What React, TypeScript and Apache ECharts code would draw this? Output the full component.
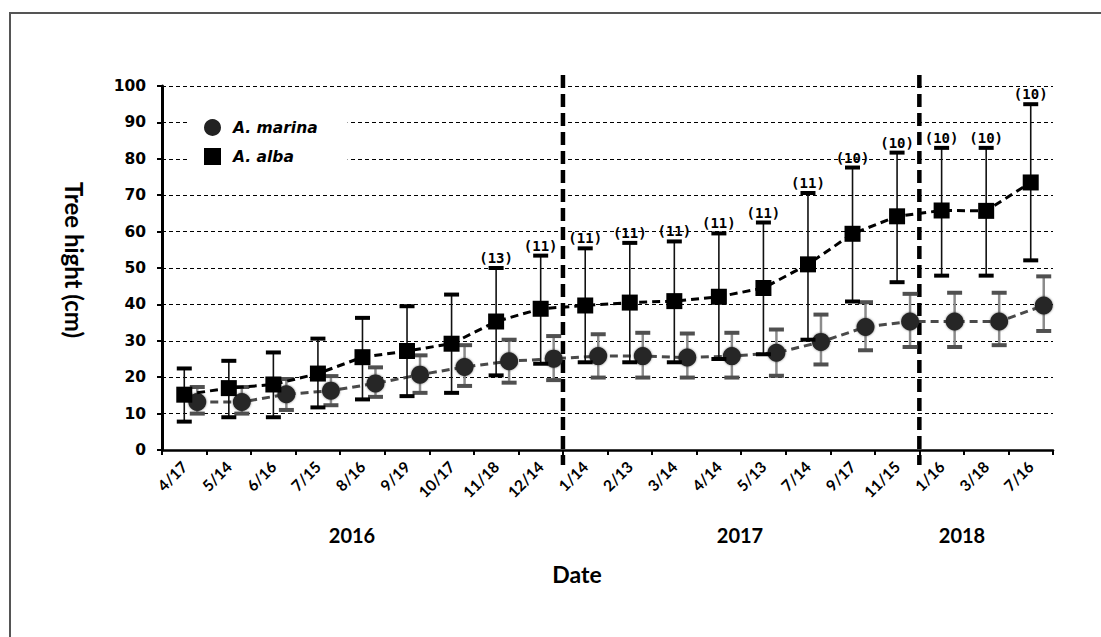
import React, { useEffect, useRef } from "react";
import * as echarts from "echarts";

// Sampling dates (month/day)
const categories = [
  "4/17", "5/14", "6/16", "7/15", "8/16", "9/19", "10/17", "11/18", "12/14",
  "1/14", "2/13", "3/14", "4/14", "5/13", "7/14", "9/17", "11/15",
  "1/16", "3/18", "7/16",
];

// Year groups: label and the date after which the year ends
const years = ["2016", "2017", "2018"];
const yearEndsAfter = ["12/14", "11/15"];

// Avicennia alba: mean, upper and lower bounds (cm), sample sizes
const albaMean = [15.2, 17.0, 18.0, 21.0, 25.5, 27.2, 29.2, 35.3, 38.8, 39.7, 40.5, 40.9, 42.1, 44.5, 51.0, 59.4, 64.2, 65.8, 65.7, 73.5];
const albaHigh = [22.4, 24.5, 26.8, 30.6, 36.3, 39.5, 42.7, 50.0, 53.4, 55.4, 56.9, 57.3, 59.5, 62.5, 70.6, 77.6, 81.7, 83.0, 83.0, 95.0];
const albaLow = [7.8, 9.0, 9.0, 11.7, 13.9, 14.8, 15.7, 20.5, 23.7, 24.1, 24.1, 24.1, 25.0, 26.3, 30.3, 40.8, 46.1, 47.9, 47.9, 52.1];
const albaN: (number | null)[] = [null, null, null, null, null, null, null, 13, 11, 11, 11, 11, 11, 11, 11, 10, 10, 10, 10, 10];

// Avicennia marina: mean, upper and lower bounds (cm)
const marinaMean = [13.2, 13.2, 15.3, 16.3, 18.3, 20.7, 22.8, 24.4, 25.1, 25.8, 25.8, 25.4, 25.8, 26.7, 29.7, 33.8, 35.3, 35.3, 35.3, 39.7];
const marinaHigh = [17.3, 17.3, 19.5, 20.3, 22.7, 26.0, 28.8, 30.3, 31.3, 31.8, 32.2, 32.0, 32.2, 33.1, 37.2, 40.6, 42.9, 43.2, 43.2, 47.7];
const marinaLow = [10.0, 10.0, 11.0, 12.3, 14.6, 15.7, 17.6, 18.5, 19.2, 19.9, 19.9, 19.9, 19.9, 20.4, 23.5, 27.4, 28.3, 28.3, 28.8, 32.7];

const yTicks = { min: 0, max: 100, interval: 10 };

const BOLD_SANS = "Lato";
const NUM_FONT = "DejaVu Sans";

function errorBarRenderer(opts: {
  stem: string;
  stemWidth: number;
  cap: string;
  labels?: (number | null)[];
}) {
  return (params: any, api: any) => {
    const idx = api.value(0);
    const hi = api.coord([idx, api.value(2)]);
    const lo = api.coord([idx, api.value(1)]);
    const x = hi[0];
    const capW = 15;
    const capH = 4;
    const children: any[] = [
      {
        type: "line",
        shape: { x1: x, y1: hi[1], x2: x, y2: lo[1] },
        style: { stroke: opts.stem, lineWidth: opts.stemWidth },
      },
      {
        type: "rect",
        shape: { x: x - capW / 2, y: hi[1] - capH / 2, width: capW, height: capH },
        style: { fill: opts.cap },
      },
      {
        type: "rect",
        shape: { x: x - capW / 2, y: lo[1] - capH / 2, width: capW, height: capH },
        style: { fill: opts.cap },
      },
    ];
    const n = opts.labels ? opts.labels[params.dataIndex] : null;
    if (n != null) {
      children.push({
        type: "text",
        x: x,
        y: hi[1] - 3,
        style: {
          text: "(" + n + ")",
          fill: "#000",
          font: "bold 14px 'DejaVu Sans Mono'",
          align: "center",
          verticalAlign: "bottom",
        },
      });
    }
    return { type: "group", children };
  };
}

export default function App() {
  const ref = useRef<HTMLDivElement>(null);

  useEffect(() => {
    if (!ref.current) return;
    const chart = echarts.init(ref.current, null, { renderer: "svg" });

    const albaBars = categories.map((_, i) => [i, albaLow[i], albaHigh[i]]);
    const marinaBars = categories.map((_, i) => [i, marinaLow[i], marinaHigh[i]]);
    const breaks = yearEndsAfter.map((d) => [categories.indexOf(d)]);

    const hiddenCat = {
      type: "category",
      data: categories,
      boundaryGap: true,
      show: false,
    };

    chart.setOption({
      animation: false,
      backgroundColor: "#fff",
      grid: [
        { left: 162, right: 48, top: 86, bottom: 187 },
        // marina points sit slightly to the right of each date slot
        { left: 175, right: 35, top: 86, bottom: 187 },
      ],
      legend: {
        orient: "vertical",
        left: 188,
        top: 110,
        padding: [9, 30, 9, 16],
        backgroundColor: "#fff",
        itemWidth: 17,
        itemHeight: 17,
        itemGap: 12,
        selectedMode: false,
        textStyle: {
          fontFamily: NUM_FONT,
          fontWeight: "bold",
          fontStyle: "italic",
          fontSize: 15.5,
          color: "#000",
          padding: [0, 0, 0, 7],
        },
        data: [
          { name: "A. marina", icon: "circle", itemStyle: { color: "#222" } },
          { name: "A. alba", icon: "rect", itemStyle: { color: "#000" } },
        ],
        z: 10,
      },
      xAxis: [
        {
          type: "category",
          gridIndex: 0,
          data: categories,
          boundaryGap: true,
          axisLine: { lineStyle: { color: "#000", width: 2.5 } },
          axisTick: { show: true, length: 5, lineStyle: { color: "#000", width: 2 } },
          axisLabel: {
            rotate: 45,
            interval: 0,
            margin: 14,
            color: "#000",
            fontFamily: BOLD_SANS,
            fontWeight: "bold",
            fontSize: 15.5,
          },
          splitLine: { show: false },
        },
        { ...hiddenCat, gridIndex: 1 },
      ],
      yAxis: [
        {
          type: "value",
          gridIndex: 0,
          min: yTicks.min,
          max: yTicks.max,
          interval: yTicks.interval,
          axisLine: { show: true, lineStyle: { color: "#000", width: 3 } },
          axisTick: { show: true, length: 5, lineStyle: { color: "#000", width: 2 } },
          axisLabel: {
            margin: 16,
            color: "#000",
            fontFamily: NUM_FONT,
            fontWeight: "bold",
            fontSize: 15.5,
          },
          splitLine: { show: true, lineStyle: { color: "#000", width: 1, type: [4, 3] } },
        },
        {
          type: "value",
          gridIndex: 1,
          min: yTicks.min,
          max: yTicks.max,
          interval: yTicks.interval,
          show: false,
          splitLine: { show: false },
        },
      ],
      graphic: [
        {
          type: "rect",
          shape: { x: 10, y: 13, width: 1200, height: 800 },
          style: { fill: "none", stroke: "#555", lineWidth: 2 },
          silent: true,
        },
        {
          type: "text",
          x: 74,
          y: 260,
          rotation: -Math.PI / 2,
          style: {
            text: "Tree hight (cm)",
            font: `bold 24px ${BOLD_SANS}`,
            fill: "#000",
            align: "center",
            verticalAlign: "middle",
          },
        },
        {
          type: "text",
          x: 352,
          y: 535,
          style: { text: years[0], font: `bold 20px ${BOLD_SANS}`, fill: "#000", align: "center", verticalAlign: "middle" },
        },
        {
          type: "text",
          x: 740,
          y: 535,
          style: { text: years[1], font: `bold 20px ${BOLD_SANS}`, fill: "#000", align: "center", verticalAlign: "middle" },
        },
        {
          type: "text",
          x: 962,
          y: 535,
          style: { text: years[2], font: `bold 20px ${BOLD_SANS}`, fill: "#000", align: "center", verticalAlign: "middle" },
        },
        {
          type: "text",
          x: 577,
          y: 574,
          style: { text: "Date", font: `bold 23px ${BOLD_SANS}`, fill: "#000", align: "center", verticalAlign: "middle" },
        },
      ],
      series: [
        // year separators at the date-slot boundary
        {
          type: "custom",
          xAxisIndex: 0,
          yAxisIndex: 0,
          data: breaks,
          silent: true,
          z: 1,
          renderItem: (params: any, api: any) => {
            const idx = api.value(0);
            const half = api.size([1, 0])[0] / 2;
            const x = api.coord([idx, 0])[0] + half;
            const yTop = api.coord([idx, yTicks.max])[1] - 11;
            const yBot = api.coord([idx, yTicks.min])[1] + 15;
            return {
              type: "line",
              shape: { x1: x, y1: yTop, x2: x, y2: yBot },
              style: { stroke: "#000", lineWidth: 4.5, lineDash: [13, 6] },
            };
          },
        },
        {
          name: "A. marina bars",
          type: "custom",
          xAxisIndex: 1,
          yAxisIndex: 1,
          data: marinaBars,
          silent: true,
          z: 2,
          renderItem: errorBarRenderer({ stem: "#8c8c8c", stemWidth: 2.5, cap: "#505050" }),
        },
        {
          name: "A. marina",
          type: "line",
          xAxisIndex: 1,
          yAxisIndex: 1,
          data: marinaMean,
          symbol: "circle",
          symbolSize: 18,
          z: 3,
          itemStyle: { color: "#262626", shadowBlur: 2, shadowColor: "rgba(0,0,0,0.5)" },
          lineStyle: { color: "#4a4a4a", width: 3, type: [8, 5] },
        },
        {
          name: "A. alba bars",
          type: "custom",
          xAxisIndex: 0,
          yAxisIndex: 0,
          data: albaBars,
          silent: true,
          z: 4,
          renderItem: errorBarRenderer({ stem: "#111", stemWidth: 1.6, cap: "#000", labels: albaN }),
        },
        {
          name: "A. alba",
          type: "line",
          xAxisIndex: 0,
          yAxisIndex: 0,
          data: albaMean,
          symbol: "rect",
          symbolSize: 16,
          z: 5,
          itemStyle: { color: "#000" },
          lineStyle: { color: "#000", width: 3, type: [8, 5] },
        },
      ],
    });

    return () => chart.dispose();
  }, []);

  return (
    <div
      ref={ref}
      style={{ position: "absolute", left: 0, top: 0, width: 1101, height: 637 }}
    />
  );
}
